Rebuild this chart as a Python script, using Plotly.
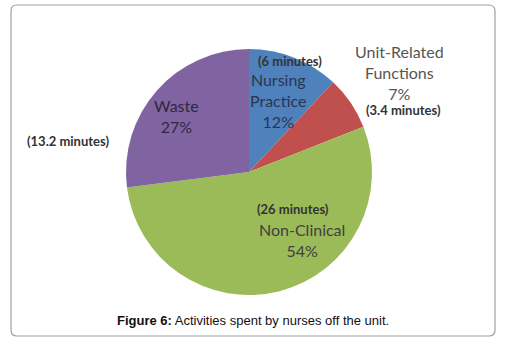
import plotly.graph_objects as go

categories = ["Nursing Practice", "Unit-Related Functions", "Non-Clinical", "Waste"]
percent = [12, 7, 54, 27]
minutes = ["6 minutes", "3.4 minutes", "26 minutes", "13.2 minutes"]
colors = ["#4F81BD", "#C0504D", "#9BBB59", "#8064A2"]

W, H = 507, 343

def px(x):
    return x / W

def py(y):
    return 1 - y / H

fig = go.Figure(go.Pie(
    labels=categories,
    values=percent,
    sort=False,
    direction="clockwise",
    rotation=0,
    marker=dict(colors=colors, line=dict(width=0)),
    textinfo="none",
    hoverinfo="label+percent",
    showlegend=False,
    domain=dict(x=[px(125), px(373)], y=[py(295), py(49)]),
))

lab_font = dict(family="Lato", size=16, color="#404040")
min_font = dict(family="Lato", size=13, color="#333333")

ann = []
def add(x, y, text, font):
    ann.append(dict(x=px(x), y=py(y), xref="paper", yref="paper", text=text,
                    showarrow=False, font=font, xanchor="center", yanchor="middle"))

# Nursing Practice
add(290, 61, "<b>(" + minutes[0] + ")</b>", min_font)
add(278, 101, categories[0].replace(" ", "<br>") + "<br>" + str(percent[0]) + "%",
    dict(family="Lato", size=16, color="#2b3550"))
# Unit-Related
add(399, 73, "Unit-Related<br>Functions<br>" + str(percent[1]) + "%", dict(family="Lato", size=16, color="#555555"))
add(403, 110, "<b>(" + minutes[1] + ")</b>", min_font)
# Non-Clinical
add(293, 209, "<b>(" + minutes[2] + ")</b>", min_font)
add(302, 240, categories[2] + "<br>" + str(percent[2]) + "%", lab_font)
# Waste
add(176, 116, categories[3] + "<br>" + str(percent[3]) + "%", dict(family="Lato", size=16, color="#2f2740"))
add(68, 141, "<b>(" + minutes[3] + ")</b>", min_font)

# Caption
add(253, 320, "<b>Figure 6:</b> Activities spent by nurses off the unit.",
    dict(family="Liberation Sans, Arial", size=13, color="#111111"))

# rounded border
x0, x1, y0, y1, r = 11, 495, 5, 336, 6
def P(x, y):
    return f"{px(x)},{py(y)}"
path = (f"M {P(x0+r, y0)} L {P(x1-r, y0)} Q {P(x1, y0)} {P(x1, y0+r)} "
        f"L {P(x1, y1-r)} Q {P(x1, y1)} {P(x1-r, y1)} "
        f"L {P(x0+r, y1)} Q {P(x0, y1)} {P(x0, y1-r)} "
        f"L {P(x0, y0+r)} Q {P(x0, y0)} {P(x0+r, y0)} Z")

fig.update_layout(
    width=W, height=H,
    margin=dict(l=0, r=0, t=0, b=0),
    paper_bgcolor="white",
    plot_bgcolor="white",
    annotations=ann,
    shapes=[dict(type="path", path=path, xref="paper", yref="paper",
                 line=dict(color="#A0A0A0", width=1.2))],
)

fig.write_html("out.html", config={"displayModeBar": False},
               post_script="document.body.style.margin='0';document.body.style.overflow='hidden';")
